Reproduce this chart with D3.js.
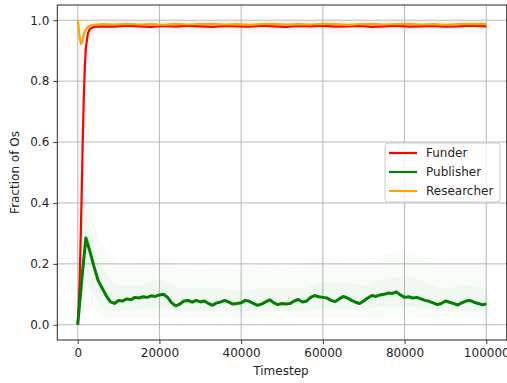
<!DOCTYPE html>
<html>
<head>
<meta charset="utf-8">
<script src="https://cdn.jsdelivr.net/npm/d3@7"></script>
<style>
  html, body { margin: 0; padding: 0; background: #fff; }
  svg { display: block; font-family: "DejaVu Sans", sans-serif; }
</style>
</head>
<body>
<svg id="chart" width="507" height="383"></svg>
<script>
// publisher mean, one value every 1000 timesteps
const publisherT = d3.range(0, 100001, 1000);
const publisherV = [
  0.0, 0.15, 0.285, 0.24, 0.19, 0.145, 0.12, 0.095, 0.075, 0.07,
  0.08, 0.078, 0.085, 0.082, 0.09, 0.088, 0.092, 0.09, 0.095, 0.093,
  0.098, 0.1, 0.09, 0.072, 0.062, 0.068, 0.078, 0.08, 0.074, 0.08,
  0.075, 0.078, 0.07, 0.064, 0.072, 0.075, 0.08, 0.074, 0.068, 0.07,
  0.072, 0.08, 0.077, 0.07, 0.064, 0.068, 0.075, 0.082, 0.072, 0.066,
  0.07, 0.068, 0.07, 0.078, 0.083, 0.075, 0.078, 0.09, 0.096, 0.092,
  0.09, 0.088, 0.08, 0.076, 0.085, 0.093, 0.088, 0.08, 0.074, 0.07,
  0.078, 0.088, 0.096, 0.093, 0.098, 0.1, 0.104, 0.103, 0.108, 0.098,
  0.09, 0.092, 0.088, 0.09, 0.085, 0.08, 0.077, 0.072, 0.066, 0.07,
  0.078, 0.074, 0.07, 0.065, 0.072, 0.078, 0.08, 0.074, 0.07, 0.066,
  0.068
];

// funder mean
const funderT = [0, 250, 500, 750, 1000, 1250, 1500, 1750, 2000, 2500, 3000, 4000,
  6000, 9000, 12000, 15000, 18000, 21000, 24000, 27000, 30000, 33000, 36000, 39000,
  42000, 45000, 48000, 51000, 54000, 57000, 60000, 63000, 66000, 69000, 72000,
  75000, 78000, 81000, 84000, 87000, 90000, 93000, 96000, 100000];
const funderV = [0.0, 0.07, 0.16, 0.3, 0.45, 0.62, 0.75, 0.85, 0.91, 0.958, 0.972, 0.978,
  0.98, 0.979, 0.982, 0.98, 0.978, 0.981, 0.979, 0.982, 0.98, 0.978, 0.981, 0.98,
  0.979, 0.982, 0.98, 0.978, 0.981, 0.98, 0.982, 0.979, 0.98, 0.981, 0.978,
  0.98, 0.982, 0.979, 0.98, 0.981, 0.979, 0.98, 0.982, 0.98];

// researcher mean
const researcherT = [0, 250, 500, 800, 1100, 1500, 2000, 2500, 3000, 4000,
  6000, 9000, 12000, 15000, 18000, 21000, 24000, 27000, 30000, 33000, 36000, 39000,
  42000, 45000, 48000, 51000, 54000, 57000, 60000, 63000, 66000, 69000, 72000,
  75000, 78000, 81000, 84000, 87000, 90000, 93000, 96000, 100000];
const researcherV = [1.0, 0.975, 0.94, 0.922, 0.93, 0.955, 0.97, 0.978, 0.982, 0.985,
  0.987, 0.986, 0.988, 0.986, 0.987, 0.985, 0.988, 0.986, 0.987, 0.988, 0.986, 0.987,
  0.985, 0.987, 0.988, 0.986, 0.987, 0.986, 0.988, 0.987, 0.985, 0.987, 0.988,
  0.986, 0.987, 0.988, 0.986, 0.987, 0.985, 0.987, 0.988, 0.987];

// spread of the individual runs (faint background)
const bandT = [0, 1000, 2000, 3000, 5000, 7500, 10000, 15000, 20000, 25000, 30000, 35000,
  40000, 45000, 50000, 55000, 60000, 65000, 70000, 75000, 80000, 85000, 90000, 95000, 100000];
const publisherLow = [0, 0.04, 0.08, 0.06, 0.04, 0.02, 0.02, 0.02, 0.025, 0.02, 0.02, 0.02,
  0.02, 0.02, 0.02, 0.02, 0.025, 0.02, 0.02, 0.025, 0.03, 0.02, 0.02, 0.02, 0.02];
const publisherHigh = [0, 0.45, 0.55, 0.42, 0.3, 0.24, 0.2, 0.2, 0.22, 0.19, 0.18, 0.19,
  0.18, 0.2, 0.19, 0.2, 0.22, 0.21, 0.2, 0.23, 0.24, 0.22, 0.2, 0.21, 0.2];
const publisherCoreLow = [0, 0.08, 0.16, 0.12, 0.08, 0.045, 0.045, 0.05, 0.055, 0.045, 0.045, 0.045,
  0.045, 0.045, 0.045, 0.045, 0.055, 0.05, 0.05, 0.06, 0.06, 0.05, 0.045, 0.045, 0.045];
const publisherCoreHigh = [0, 0.28, 0.38, 0.32, 0.22, 0.16, 0.13, 0.13, 0.15, 0.12, 0.12, 0.12,
  0.11, 0.12, 0.12, 0.12, 0.14, 0.14, 0.13, 0.15, 0.16, 0.14, 0.12, 0.13, 0.12];
const topLow = [0, 0.5, 0.9, 0.94, 0.955, 0.955, 0.955, 0.955, 0.955, 0.955, 0.955, 0.955,
  0.955, 0.955, 0.955, 0.955, 0.955, 0.955, 0.955, 0.955, 0.955, 0.955, 0.955, 0.955, 0.955];
const topHigh = [1.0, 1.0, 1.0, 1.0, 1.0, 1.0, 1.0, 1.0, 1.0, 1.0, 1.0, 1.0,
  1.0, 1.0, 1.0, 1.0, 1.0, 1.0, 1.0, 1.0, 1.0, 1.0, 1.0, 1.0, 1.0];

const xTicks = [0, 20000, 40000, 60000, 80000, 100000];
const yTicks = [0.0, 0.2, 0.4, 0.6, 0.8, 1.0];

const series = [
  { name: 'Funder', color: '#ff0000', t: funderT, v: funderV },
  { name: 'Publisher', color: '#008000', t: publisherT, v: publisherV },
  { name: 'Researcher', color: '#ffa500', t: researcherT, v: researcherV },
];

let svg = d3.select('#chart');
let area = { left: 57.3, right: 506.7, top: 5, bottom: 340 };

let x = d3.scaleLinear().domain([-5000, 105000]).range([area.left, area.right]);
let y = d3.scaleLinear().domain([-0.05, 1.05]).range([area.bottom, area.top]);

// grid
let grid = svg.append('g');
grid.selectAll('.gx').data(xTicks).enter().append('line')
  .attr('x1', d => x(d)).attr('x2', d => x(d))
  .attr('y1', area.top).attr('y2', area.bottom)
  .attr('stroke', '#b0b0b0').attr('stroke-width', 0.9);
grid.selectAll('.gy').data(yTicks).enter().append('line')
  .attr('x1', area.left).attr('x2', area.right)
  .attr('y1', d => y(d)).attr('y2', d => y(d))
  .attr('stroke', '#b0b0b0').attr('stroke-width', 0.9);

// faint bands for the runs
function band(low, high) {
  return d3.area()
    .x((d, i) => x(bandT[i]))
    .y0((d, i) => y(low[i]))
    .y1((d, i) => y(high[i]))
    .curve(d3.curveMonotoneX)(bandT);
}
svg.append('path').attr('d', band(publisherLow, publisherHigh))
  .attr('fill', '#008000').attr('opacity', 0.025);
svg.append('path').attr('d', band(publisherCoreLow, publisherCoreHigh))
  .attr('fill', '#008000').attr('opacity', 0.03);
svg.append('path').attr('d', band(topLow, topHigh))
  .attr('fill', '#ff7a4a').attr('opacity', 0.06);

// mean lines
let line = d3.line().x(d => x(d[0])).y(d => y(d[1]));
series.forEach(function (s) {
  let pts = s.t.map((t, i) => [t, s.v[i]]);
  svg.append('path')
    .attr('d', line(pts))
    .attr('fill', 'none')
    .attr('stroke', s.color)
    .attr('stroke-width', s.name === 'Publisher' ? 3 : 2.2)
    .attr('stroke-linejoin', 'round');
});

// axes
let xAxis = svg.append('g')
  .attr('transform', 'translate(0,' + area.bottom + ')')
  .call(d3.axisBottom(x).tickValues(xTicks).tickSize(4).tickPadding(4).tickFormat(d3.format('d')));
let yAxis = svg.append('g')
  .attr('transform', 'translate(' + area.left + ',0)')
  .call(d3.axisLeft(y).tickValues(yTicks).tickSize(4).tickPadding(4).tickFormat(d3.format('.1f')));
[xAxis, yAxis].forEach(function (a) {
  a.select('.domain').remove();
  a.selectAll('text').attr('font-size', 12).attr('fill', '#262626').attr('font-family', 'DejaVu Sans');
  a.selectAll('line').attr('stroke', '#262626').attr('stroke-width', 0.9);
});

// frame
svg.append('rect')
  .attr('x', area.left).attr('y', area.top)
  .attr('width', area.right - area.left).attr('height', area.bottom - area.top)
  .attr('fill', 'none').attr('stroke', '#262626').attr('stroke-width', 1);

// labels
svg.append('text').attr('x', (area.left + area.right) / 2 - 1).attr('y', 375)
  .attr('text-anchor', 'middle').attr('font-size', 12).attr('fill', '#262626').text('Timestep');
svg.append('text').attr('transform', 'translate(19,' + ((area.top + area.bottom) / 2) + ') rotate(-90)')
  .attr('text-anchor', 'middle').attr('font-size', 12).attr('fill', '#262626').text('Fraction of Os');

// legend
let legend = svg.append('g').attr('transform', 'translate(385,143)');
legend.append('rect').attr('width', 115).attr('height', 59).attr('rx', 3)
  .attr('fill', 'white').attr('fill-opacity', 0.8).attr('stroke', '#cccccc');
series.forEach(function (s, i) {
  let row = legend.append('g').attr('transform', 'translate(0,' + (10 + i * 19) + ')');
  row.append('line').attr('x1', 4).attr('x2', 32).attr('y1', 0).attr('y2', 0)
    .attr('stroke', s.color).attr('stroke-width', 2.2);
  row.append('text').attr('x', 41).attr('y', 4.3).attr('font-size', 12)
    .attr('fill', '#262626').text(s.name);
});
</script>
</body>
</html>
